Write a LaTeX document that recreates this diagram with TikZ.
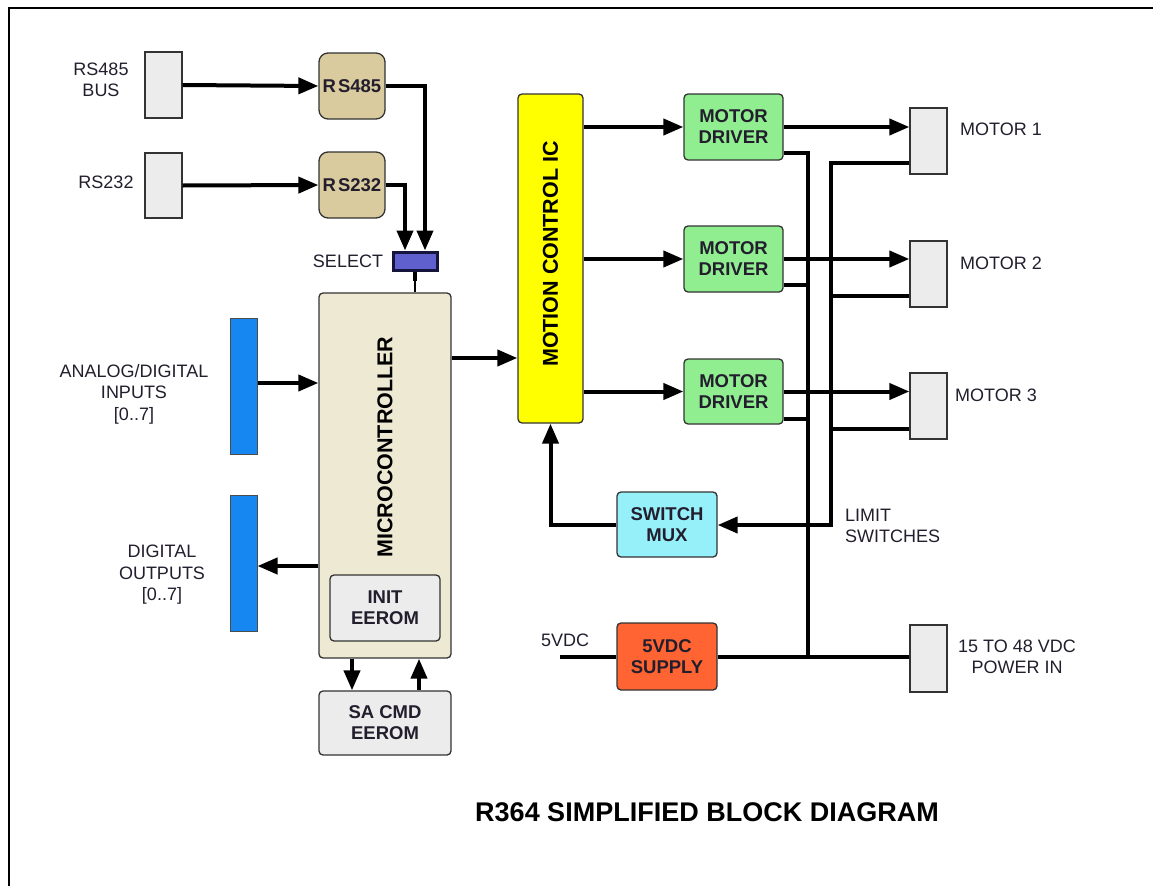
\documentclass[tikz,border=0pt]{standalone}
\usepackage{fontspec}
\setmainfont{Liberation Sans}
\usetikzlibrary{arrows.meta}
\definecolor{txt}{RGB}{35,30,45}
\definecolor{cgrey}{RGB}{236,236,236}
\definecolor{tan}{RGB}{217,203,158}
\definecolor{beige}{RGB}{238,233,210}
\definecolor{bbar}{RGB}{22,135,240}
\definecolor{selfill}{RGB}{95,95,205}
\definecolor{seldraw}{RGB}{20,20,60}
\definecolor{ygreen}{RGB}{144,238,144}
\definecolor{cyanbox}{RGB}{150,240,250}
\definecolor{orangebox}{RGB}{255,100,50}
\definecolor{ybox}{RGB}{255,255,0}
\tikzset{
  x=1pt, y=1pt,
  conn/.style={draw=black!80, line width=1.3pt, fill=cgrey, minimum width=37pt, inner sep=0pt},
  blk/.style={draw=black!80, line width=1.3pt, rounded corners=4pt, inner sep=0pt, align=center,
     text=txt, font=\bfseries\fontsize{18.5}{21}\selectfont},
  vtxt/.style={inner sep=0pt, text=black, rotate=90, font=\bfseries\fontsize{21.5}{24}\selectfont},
  lbl/.style={text=txt, align=center, inner sep=0pt, font=\fontsize{18}{21.5}\selectfont},
  wire/.style={line width=4pt, black},
  arr/.style={wire, -{Triangle[length=20pt,width=16pt]}},
}
\begin{document}
\begin{tikzpicture}
\useasboundingbox (0,0) rectangle (1153,-886);
\fill[white] (0,0) rectangle (1153,-886);
\draw[line width=2.5pt] (9,-886) -- (9,-8) -- (1153,-8);

% connectors
\node[conn, minimum height=66pt] (c485) at (163.5,-85) {};
\node[conn, minimum height=65pt] (c232) at (163.5,-185.5) {};
\node[conn, minimum height=66pt] (m1) at (928.5,-141) {};
\node[conn, minimum height=66pt] (m2) at (928.5,-274) {};
\node[conn, minimum height=66pt] (m3) at (928.5,-406) {};
\node[conn, minimum height=67pt] (pin) at (928.5,-658.5) {};

% blocks
\node[blk, fill=tan, rounded corners=9pt, minimum width=66pt, minimum height=66pt] (b485) at (352,-86) {R\kern2pt S485};
\node[blk, fill=tan, rounded corners=9pt, minimum width=66pt, minimum height=66pt] (b232) at (352,-185) {R\kern2pt S232};
\node[draw=seldraw, line width=3pt, fill=selfill, minimum width=44pt, minimum height=18pt, inner sep=0pt] (sel) at (415,-261) {};
\node[blk, fill=beige, minimum width=132pt, minimum height=365pt] (mcu) at (385,-475.5) {};
\node[vtxt] (mcul) at (385,-447) {MICROCONTROLLER};
\node[blk, fill=cgrey, minimum width=110pt, minimum height=66pt] (init) at (385,-608) {INIT\\EEROM};
\node[blk, fill=cgrey, minimum width=132pt, minimum height=64pt] (sacmd) at (385,-723) {SA CMD\\EEROM};
\node[draw=black!70, line width=1pt, fill=bbar, minimum width=27pt, minimum height=136pt, inner sep=0pt] (ain) at (243.5,-386) {};
\node[draw=black!70, line width=1pt, fill=bbar, minimum width=27pt, minimum height=136pt, inner sep=0pt] (dout) at (243.5,-563) {};
\node[blk, fill=ybox, minimum width=65pt, minimum height=329pt] (mcic) at (550.5,-258.5) {};
\node[vtxt] (mcicl) at (550.5,-254) {MOTION CONTROL IC};
\node[blk, fill=ygreen, minimum width=99pt, minimum height=66pt] (drv1) at (733.5,-127) {MOTOR\\DRIVER};
\node[blk, fill=ygreen, minimum width=99pt, minimum height=66pt] (drv2) at (733.5,-259) {MOTOR\\DRIVER};
\node[blk, fill=ygreen, minimum width=99pt, minimum height=65pt] (drv3) at (733.5,-391.5) {MOTOR\\DRIVER};
\node[blk, fill=cyanbox, minimum width=100pt, minimum height=65pt] (mux) at (667,-524.5) {SWITCH\\MUX};
\node[blk, fill=orangebox, minimum width=100pt, minimum height=67pt] (sup) at (667,-656.5) {5VDC\\SUPPLY};

% labels
\node[lbl] (l485) at (101,-80) {RS485\\BUS};
\node[lbl] (l232) at (106,-182) {RS232};
\node[lbl] (lsel) at (348,-261) {SELECT};
\node[lbl] (lain) at (134,-394) {ANALOG/DIGITAL\\INPUTS\\{[0..7]}};
\node[lbl] (ldout) at (162,-575) {DIGITAL\\OUTPUTS\\{[0..7]}};
\node[lbl, anchor=west] (lm1) at (960,-129) {MOTOR 1};
\node[lbl, anchor=west] (lm2) at (960,-263) {MOTOR 2};
\node[lbl, anchor=west] (lm3) at (955,-395) {MOTOR 3};
\node[lbl, anchor=west, align=left] (llim) at (845,-526) {LIMIT\\SWITCHES};
\node[lbl] (l5v) at (565,-640) {5VDC};
\node[lbl] (lpin) at (1017,-657) {15 TO 48 VDC\\POWER IN};
\node[text=black, inner sep=0pt, font=\bfseries\fontsize{27}{30}\selectfont] (title) at (707,-812) {R364 SIMPLIFIED BLOCK DIAGRAM};

% coordinates
\coordinate (pt) at (808,-153);
\coordinate (pj) at (808,-656.5);
\coordinate (lt) at (831,-163);
\coordinate (lb) at (831,-525);
\coordinate (v5) at (560,-656.5);

% connectors
\draw[arr] (c485.east) -- (b485.west);
\draw[arr] (c232.east) -- (b232.west);
\draw[arr] (b485.east) -| ([xshift=10pt]sel.north);
\draw[arr] (b232.east) -| ([xshift=-10pt]sel.north);
\draw[line width=1.8pt] (sel.south) -- (sel.south |- mcu.north);
\draw[line width=3.5pt] (sel.south) -- ++(0,-9);
\draw[arr] ([yshift=3pt]ain.east) -- ([yshift=3pt]ain.east -| mcu.west);
\draw[arr] ([yshift=-3pt]mcu.west |- dout.east) -- ([yshift=-3pt]dout.east);
\draw[arr] (mcu.east |- {(0,-358)}) -- (mcic.west |- {(0,-358)});
\draw[arr] (mcu.south -| {(352,0)}) -- (sacmd.north -| {(352,0)});
\draw[arr] (sacmd.north -| {(419,0)}) -- (mcu.south -| {(419,0)});
\draw[arr] (mcic.east |- drv1.west) -- (drv1.west);
\draw[arr] (mcic.east |- drv2.west) -- (drv2.west);
\draw[arr] (mcic.east |- drv3.west) -- (drv3.west);
\draw[arr] (drv1.east) -- (drv1.east -| m1.west);
\draw[arr] (drv2.east) -- (drv2.east -| m2.west);
\draw[arr] (drv3.east) -- (drv3.east -| m3.west);
% power bus
\draw[wire] ([yshift=-26pt]drv1.east) -- (pt) -- (pj);
\draw[wire] ([yshift=-26pt]drv2.east) -- ([yshift=-26pt]drv2.east -| pt);
\draw[wire] ([yshift=-27pt]drv3.east) -- ([yshift=-27pt]drv3.east -| pt);
\draw[wire] (v5) -- (sup.west);
\draw[wire] (sup.east) -- (sup.east -| pin.west);
% limit switches bus
\draw[arr] ([yshift=-22pt]m1.west) -- (lt) -- (lb) -- (lb -| mux.east);
\draw[wire] ([yshift=-22pt]m2.west) -- ([yshift=-22pt]m2.west -| lt);
\draw[wire] ([yshift=-23pt]m3.west) -- ([yshift=-23pt]m3.west -| lt);
\draw[arr] (mux.west) -| (mcic.south);
\end{tikzpicture}
\end{document}
